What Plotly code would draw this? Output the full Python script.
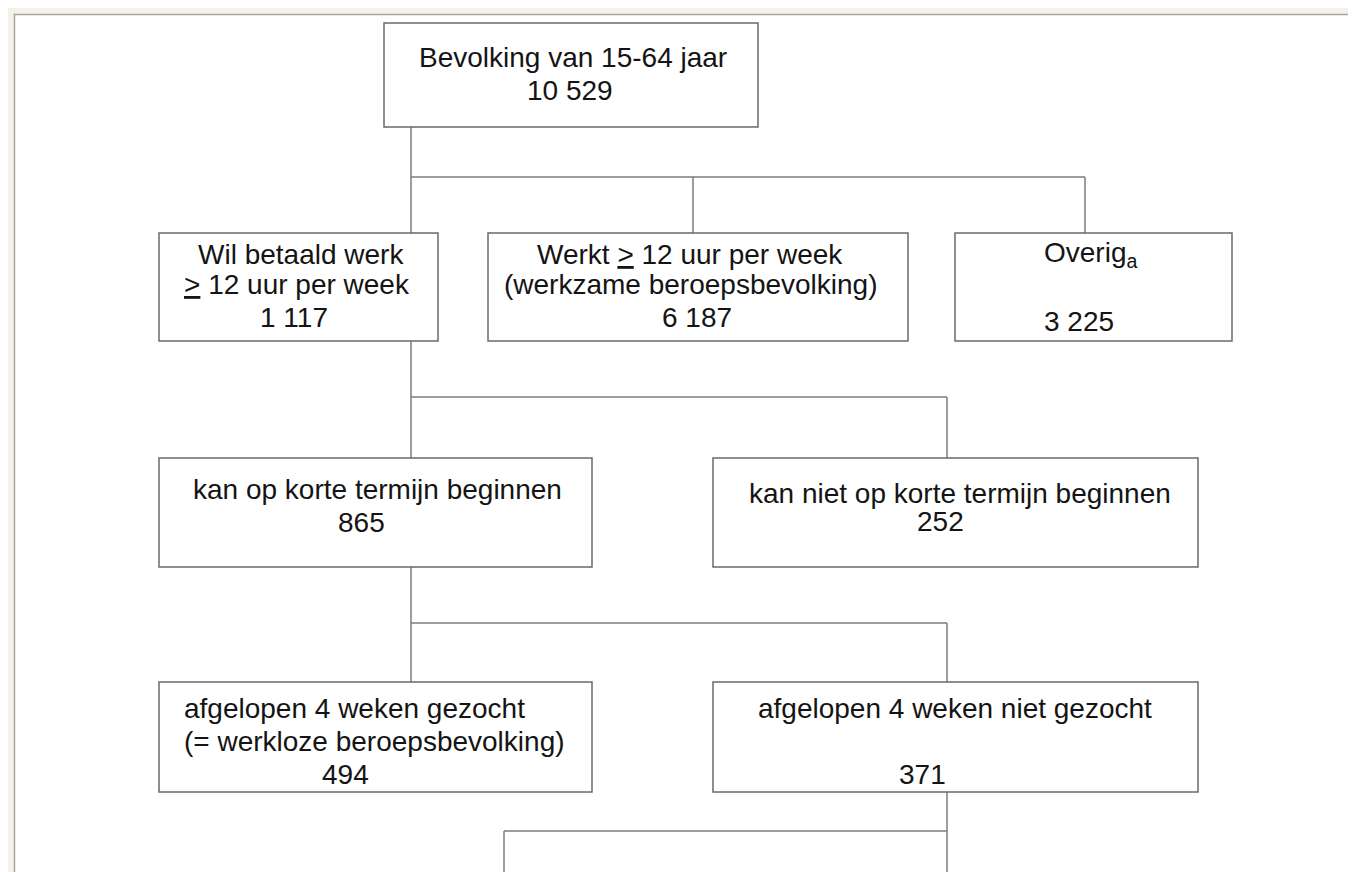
import plotly.graph_objects as go

# ---- data -------------------------------------------------------------
node_lines = [
    ["Bevolking van 15-64 jaar"],
    ["Wil betaald werk", "<u>></u> 12 uur per week"],
    ["Werkt <u>></u> 12 uur per week", "(werkzame beroepsbevolking)"],
    ["Overig<sub>a</sub>"],
    ["kan op korte termijn beginnen"],
    ["kan niet op korte termijn beginnen"],
    ["afgelopen 4 weken gezocht", "(= werkloze beroepsbevolking)"],
    ["afgelopen 4 weken niet gezocht"],
]
counts = [10529, 1117, 6187, 3225, 865, 252, 494, 371]
# tree: parent index -> children indices ("a", "b" continue below the view)
children = {0: [1, 2, 3], 1: [4, 5], 4: [6, 7], 7: ["a", "b"]}

# ---- layout geometry (page pixels) ---------------------------------------
OFF = 8                      # default body margin of the html page
W, H = 1356 - OFF, 872 - OFF
boxes = {
    0: (384, 23, 758, 127),
    1: (159, 233, 438, 341),
    2: (488, 233, 908, 341),
    3: (955, 233, 1232, 341),
    4: (159, 458, 592, 567),
    5: (713, 458, 1198, 567),
    6: (159, 682, 592, 792),
    7: (713, 682, 1198, 792),
}
conn_x = {0: 411, 1: 411, 2: 693, 3: 1085, 4: 411, 5: 947, 6: 411, 7: 947,
          "a": 504, "b": 947}
bus_y = {0: 177, 1: 397, 4: 623, 7: 831}
# per-line text anchors (x, y, anchor)
line_pos = {
    0: [(573, 57, "center"), (570, 90, "center")],
    1: [(301, 254, "center"), (297, 284, "center"), (294, 317, "center")],
    2: [(690, 254, "center"), (691, 284, "center"), (697, 317, "center")],
    3: [(1042, 254, "left"), (1042, 321, "left")],
    4: [(377, 489, "center"), (361, 522, "center")],
    5: [(960, 493, "center"), (940, 521, "center")],
    6: [(354, 708, "center"), (374, 741, "center"), (345, 774, "center")],
    7: [(955, 708, "center"), (922, 774, "center")],
}

FONT = "Liberation Sans, Arial, Helvetica, sans-serif"
FS = 28
TXT = "#141414"
BOX = "#6a6a6a"
LINE = "#7c7c7c"


def fmt(v):
    return f"{v:,}".replace(",", " ")


def px(v):
    return v - OFF


shapes = []
annotations = []

# outer frame of the page picture
shapes.append(dict(type="rect", x0=px(8), y0=px(8), x1=W + 5, y1=H + 5,
                   fillcolor="#f4f2e8", line=dict(width=0), layer="below"))
shapes.append(dict(type="rect", x0=px(14.5), y0=px(14.5), x1=W + 5, y1=H + 5,
                   fillcolor="#ffffff", line=dict(color="#a8a69a", width=1.5),
                   layer="below"))
shapes.append(dict(type="line", x0=px(1354), y0=px(22), x1=px(1354), y1=H + 5,
                   line=dict(color="#cfcfcf", width=2)))

# connectors
for p, kids in children.items():
    top = boxes[p][3]
    by = bus_y[p]
    x_p = conn_x[p]
    shapes.append(dict(type="line", x0=px(x_p), y0=px(top), x1=px(x_p), y1=px(by),
                       line=dict(color=LINE, width=1.5)))
    xs = [conn_x[k] for k in kids] + [x_p]
    shapes.append(dict(type="line", x0=px(min(xs)), y0=px(by), x1=px(max(xs)),
                       y1=px(by), line=dict(color=LINE, width=1.5)))
    for k in kids:
        ct = px(boxes[k][1]) if k in boxes else H + 10
        shapes.append(dict(type="line", x0=px(conn_x[k]), y0=px(by),
                           x1=px(conn_x[k]), y1=ct,
                           line=dict(color=LINE, width=1.5)))

# boxes and their texts
for i, (x0, y0, x1, y1) in boxes.items():
    shapes.append(dict(type="rect", x0=px(x0), y0=px(y0), x1=px(x1), y1=px(y1),
                       fillcolor="white", line=dict(color=BOX, width=1.5)))
    lines = node_lines[i] + [fmt(counts[i])]
    for txt, (x, y, anc) in zip(lines, line_pos[i]):
        annotations.append(dict(x=px(x), y=px(y), xref="x", yref="y", text=txt,
                                showarrow=False, xanchor=anc, yanchor="middle",
                                font=dict(family=FONT, size=FS, color=TXT)))

fig = go.Figure()
fig.update_layout(
    width=W, height=H, margin=dict(l=0, r=0, t=0, b=0),
    paper_bgcolor="white", plot_bgcolor="white",
    xaxis=dict(range=[0, W], visible=False, fixedrange=True),
    yaxis=dict(range=[H, 0], visible=False, fixedrange=True),
    shapes=shapes, annotations=annotations, showlegend=False,
)
fig.write_html("out.html")
